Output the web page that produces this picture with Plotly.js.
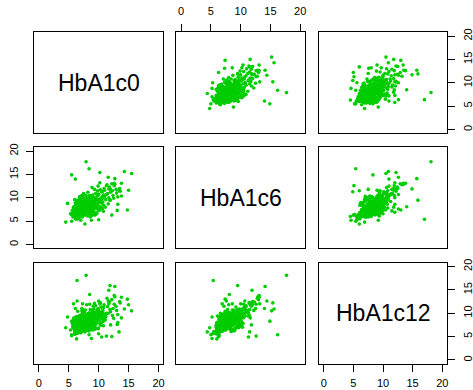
<!DOCTYPE html>
<html>
<head>
<meta charset="utf-8">
<script src="https://cdn.plot.ly/plotly-3.0.1.min.js"></script>
<style>html,body{margin:0;padding:0;background:#fff;}#chart{width:473px;height:390px;}</style>
</head>
<body>
<div id="chart"></div>
<script>
var varNames = ["HbA1c0", "HbA1c6", "HbA1c12"];
var tickVals = [0, 5, 10, 15, 20];
var tickLabels = ["0", "5", "10", "15", "20"];

var hba1c0 = [
7.2,8.1,6.5,7.7,9.0,6.9,7.5,8.4,6.2,7.9, 8.8,7.0,6.7,8.2,9.5,7.4,6.0,8.6,7.1,10.2,
7.8,6.6,8.9,7.3,9.2,6.4,8.0,7.6,10.6,6.8, 8.3,7.0,9.8,7.5,6.3,8.7,7.9,6.1,9.3,7.2,
8.5,6.9,10.0,7.7,6.5,8.1,9.6,7.4,6.7,8.4, 11.0,7.1,5.9,8.9,7.6,6.2,9.1,7.8,6.6,8.6,
7.3,10.4,6.8,8.0,9.4,7.0,6.4,8.3,7.5,9.7, 6.9,8.8,7.2,6.3,10.8,7.9,8.5,6.7,7.4,9.0,
7.7,6.0,8.2,9.9,7.1,6.5,8.7,7.6,6.8,9.3, 7.3,8.0,6.6,10.1,7.8,6.2,8.4,7.0,9.6,6.9,
7.5,8.9,6.4,11.3,7.2,8.1,6.1,9.2,7.7,8.6, 6.7,10.5,7.4,6.0,8.3,7.9,9.4,6.8,7.1,8.8,
7.6,6.3,9.8,7.3,8.0,6.6,10.3,7.0,8.5,7.8, 6.5,9.1,7.2,8.7,6.9,7.5,9.5,6.2,8.2,7.4,
10.7,7.9,6.7,8.4,7.1,9.0,6.8,8.1,7.6,6.4,
11.5,12.0,10.9,12.4,9.8,11.8,13.0,10.3,12.6,9.5, 11.2,13.5,10.6,12.2,9.9,11.7,10.0,12.9,11.4,13.2,
8.5,9.3,11.0,12.7,10.4,13.6,8.9,11.9,10.2,12.3, 7.5,8.2,7.0,6.8,9.7,10.8,11.1,6.1,5.8,10.5,
9.4,8.6,7.2,11.6,6.5,12.5,5.6,5.3,5.7,6.0, 9.1,8.0,7.3,5.8,6.4,8.5,5.5,
7.9,6.4,8.4,5.5,6.1,10.2,14.3,15.5,11.6,12.7, 13.8,15.0,14.8,4.8,4.5,7.7,12.2,10.0,8.8,5.5,
13.8,13.2,13.1,11.9,11.7,13.4,12.6,6.3,11.3,10.5, 12.0,7.0,
6.0,9.6,7.1,8.8,6.5,9.9,7.4,8.2,5.8,10.3, 6.9,9.0,7.6,8.5,6.3,10.8,7.0,9.4,5.9,8.1,
7.3,9.7,6.6,8.7,7.9,10.1,6.2,8.4,7.5,9.3, 6.8,8.9,7.2,10.5,6.1,8.0,7.7,9.1,6.4,8.6,
7.0,9.8,5.7,8.3,7.8,10.0,6.7,8.2,7.4,9.5, 6.0,8.7,7.1,10.2,6.5,8.4,7.6,9.2,6.9,8.0,
7.3,9.9,6.3,8.6,7.9,10.4,6.8,8.9,7.2,9.0, 6.1,8.3,7.5,9.6,6.6,8.1,7.7,10.7,6.4,8.8,
7.0,9.4,6.7,8.5,7.8,9.1,6.2,8.0,7.4,10.1, 6.9,8.7,7.6,9.3,6.5,8.2,7.1,9.7,5.9,8.4,
7.3,9.0,6.8,8.6,7.9,10.6
];
var hba1c6 = [
7.0,7.8,6.8,8.4,8.1,6.2,7.3,9.1,6.6,7.1, 8.6,7.7,6.1,8.0,9.3,6.9,6.4,7.5,8.3,9.0,
7.4,7.2,9.7,6.5,8.2,5.9,8.9,7.6,9.8,7.0, 7.2,6.3,10.4,8.0,6.7,8.4,9.4,6.0,8.7,7.9,
7.7,6.6,10.8,7.0,5.6,8.6,9.1,7.5,7.4,8.1, 10.2,6.8,6.2,7.9,8.7,5.8,9.5,7.8,6.9,9.0,
7.1,9.4,7.6,7.3,10.0,6.4,6.3,8.8,7.2,8.5, 7.3,9.9,6.7,6.5,10.6,8.2,8.3,5.7,8.5,9.2,
6.6,6.8,7.6,9.6,7.4,6.0,8.0,9.2,6.2,8.9, 7.7,7.0,7.8,9.1,8.1,6.4,9.6,7.5,8.4,6.9,
6.6,8.5,7.1,10.7,8.2,7.9,5.5,9.8,7.3,8.7, 6.5,10.1,7.8,6.1,8.4,6.8,9.3,7.9,6.1,8.2,
7.7,6.9,9.0,6.3,9.3,6.7,9.7,7.2,7.4,8.8, 6.3,8.0,7.6,9.4,6.0,8.1,8.8,6.6,8.5,7.0,
10.3,7.5,7.3,7.8,6.5,10.1,6.4,8.2,6.9,6.2,
10.9,11.2,12.0,10.5,11.5,12.3,11.0,11.7,12.6,10.9, 9.6,12.0,11.3,13.0,12.5,10.0,10.7,11.8,12.8,10.2,
10.5,11.8,11.6,12.9,9.2,11.4,12.2,9.5,13.2,11.5, 10.9,11.2,9.9,9.5,6.7,7.1,8.0,8.9,8.0,7.6,
6.3,5.9,10.4,8.7,9.0,9.9,7.3,6.6,5.9,7.7, 7.2,8.0,8.6,6.9,7.6,8.1,6.4,
17.7,5.4,16.2,14.9,14.0,15.4,15.6,15.2,14.4,14.1, 13.1,11.6,7.4,8.8,4.8,4.4,6.3,5.3,5.2,5.0,
10.4,8.6,7.3,9.5,11.9,11.5,13.1,6.0,12.6,11.3, 11.8,5.2,
8.2,6.8,9.3,6.4,8.7,7.5,10.1,6.1,7.4,8.0, 9.8,6.9,7.9,10.3,8.5,8.4,6.0,9.7,6.9,9.0,
5.9,8.6,9.5,7.1,10.5,7.3,7.8,6.6,8.8,7.7, 10.2,6.2,8.1,8.9,7.0,9.9,6.7,8.3,9.1,7.8,
8.4,9.4,6.8,10.0,6.3,7.9,8.0,9.5,7.4,6.5, 9.6,8.9,7.2,9.5,6.5,8.2,9.7,7.0,8.6,6.9,
10.6,8.1,7.6,9.2,7.5,10.0,6.4,8.4,9.0,7.6, 8.3,6.8,9.3,9.8,7.3,8.5,7.2,9.1,8.9,7.4,
9.9,8.8,6.1,9.6,8.6,6.7,9.4,7.7,8.9,8.2, 7.1,10.2,6.4,9.0,8.1,7.3,10.4,7.8,7.9,9.1,
6.6,10.6,8.8,7.0,8.3,7.7
];
var hba1c12 = [
7.4,8.3,6.9,7.9,8.8,6.5,8.0,9.0,7.1,7.6, 8.2,7.2,6.3,9.4,8.7,7.8,6.0,8.1,7.0,9.6,
6.8,7.5,9.2,7.3,10.1,6.2,8.5,7.7,10.4,6.6, 7.9,5.8,9.9,8.6,6.8,7.8,8.8,6.5,9.3,7.1,
8.9,7.0,10.7,6.9,5.9,9.7,8.4,7.6,6.4,8.0, 9.8,7.7,6.7,8.6,7.4,5.6,10.3,8.2,6.1,9.1,
7.9,9.0,7.3,7.2,9.5,6.9,7.4,8.4,8.5,8.9, 6.7,9.8,6.6,6.3,11.2,7.5,9.2,6.0,8.1,8.3,
7.1,6.4,8.7,10.5,7.0,5.7,7.7,9.3,6.8,9.7, 7.8,6.5,7.2,9.4,8.8,5.9,8.6,7.6,9.0,7.3,
6.2,8.5,6.9,10.0,7.8,8.0,6.1,10.9,7.0,8.3, 7.7,9.7,7.5,5.5,9.5,7.4,8.8,6.8,6.4,8.2,
8.4,7.0,9.2,6.7,9.6,6.5,10.2,7.2,7.6,8.7, 6.6,8.1,7.9,9.9,6.3,7.3,9.1,6.2,8.0,7.1,
10.6,8.9,7.6,7.7,6.0,9.3,7.1,8.5,6.9,6.8,
11.4,10.3,11.8,11.0,10.8,12.4,10.6,12.2,11.9,11.6, 9.3,12.5,10.1,12.9,11.0,12.0,12.6,11.5,13.2,9.7,
11.9,12.1,9.0,13.5,11.3,12.2,10.6,10.8,12.0,9.5, 10.2,9.4,8.7,9.5,8.0,7.3,8.6,8.0,7.5,9.6,
6.6,7.2,11.0,10.0,10.4,8.9,7.8,6.4,6.9,8.4, 11.5,11.8,12.0,12.0,12.6,14.0,5.2,
18.1,17.0,5.4,8.3,11.0,12.2,10.9,10.5,12.6,15.7, 13.4,11.8,13.0,9.2,6.9,6.0,5.0,5.6,4.6,5.4,
9.0,8.0,7.6,15.9,14.9,6.0,13.8,4.5,5.1,4.9, 7.5,9.2,
7.3,7.9,6.9,8.6,9.1,6.7,8.2,9.4,8.8,7.4, 7.7,6.4,10.2,7.0,6.6,8.3,8.0,6.9,9.0,6.3,
7.5,10.0,8.4,9.8,9.3,8.5,7.8,6.2,10.6,7.1, 7.6,7.7,9.7,8.0,8.3,7.3,9.5,6.5,7.9,10.8,
6.1,8.7,7.2,8.9,8.1,9.9,6.8,9.0,10.4,7.6, 8.6,6.6,9.2,7.8,7.4,10.1,7.2,8.9,8.0,7.0,
9.6,6.8,9.3,8.4,6.4,9.1,8.7,7.5,10.5,9.4, 7.7,8.2,7.1,10.3,6.5,9.5,8.8,8.6,8.5,6.9,
8.3,9.6,7.3,7.4,10.7,8.0,8.9,6.7,9.8,10.0, 7.0,8.1,9.1,7.7,8.6,9.9,7.8,8.4,7.6,6.8,
10.0,9.2,6.2,8.5,7.9,9.3
];

var vars = [hba1c0, hba1c6, hba1c12];

var W = 473, H = 390;
var colPx = [[34, 163.3], [176.3, 305], [319, 447]];
var rowPx = [[32.3, 133.3], [147.3, 248.3], [262.7, 363.7]];
var axRange = [-0.8, 20.8];
var tickFont = {family: "Liberation Sans, Arial, sans-serif", size: 11, color: "#000"};

// which panels get tick labels
var xTickSide = {"3,1": "bottom", "3,3": "bottom", "1,2": "top"};
var yTickSide = {"2,1": "left", "1,3": "right", "3,3": "right"};

var data = [];
var layout = {
  width: W, height: H,
  margin: {l: 0, r: 0, t: 0, b: 0},
  paper_bgcolor: "#fff", plot_bgcolor: "#fff",
  showlegend: false,
  annotations: []
};

for (var r = 1; r <= 3; r++) {
  for (var c = 1; c <= 3; c++) {
    var k = (r - 1) * 3 + c;
    var xn = k === 1 ? "x" : "x" + k;
    var yn = k === 1 ? "y" : "y" + k;
    var xa = {
      domain: [colPx[c - 1][0] / W, colPx[c - 1][1] / W],
      range: axRange, anchor: yn,
      showline: true, mirror: true, linecolor: "#000", linewidth: 1,
      showgrid: false, zeroline: false, ticks: "", showticklabels: false
    };
    var ya = {
      domain: [1 - rowPx[r - 1][1] / H, 1 - rowPx[r - 1][0] / H],
      range: axRange, anchor: xn,
      showline: true, mirror: true, linecolor: "#000", linewidth: 1,
      showgrid: false, zeroline: false, ticks: "", showticklabels: false
    };
    var key = r + "," + c;
    if (xTickSide[key]) {
      Object.assign(xa, {side: xTickSide[key], ticks: "outside", ticklen: 7, tickwidth: 1, tickcolor: "#000",
        tickmode: "array", tickvals: tickVals, ticktext: tickLabels, showticklabels: true, tickfont: tickFont,
        ticklabelstandoff: xTickSide[key] === "top" ? 5 : 2});
    }
    if (yTickSide[key]) {
      Object.assign(ya, {side: yTickSide[key], ticks: "outside", ticklen: 7, tickwidth: 1, tickcolor: "#000",
        tickmode: "array", tickvals: tickVals, ticktext: tickLabels, showticklabels: true, tickfont: tickFont,
        tickangle: -90, ticklabelstandoff: 4});
    }
    layout[k === 1 ? "xaxis" : "xaxis" + k] = xa;
    layout[k === 1 ? "yaxis" : "yaxis" + k] = ya;

    if (r === c) {
      layout.annotations.push({
        xref: xn, yref: yn, x: 10, y: 10, text: varNames[r - 1], showarrow: false,
        font: {family: "Liberation Sans, Arial, sans-serif", size: 23, color: "#000"}
      });
    } else {
      data.push({
        type: "scatter", mode: "markers",
        x: vars[c - 1], y: vars[r - 1],
        xaxis: xn, yaxis: yn,
        marker: {color: "#00CD00", size: 3.6, line: {width: 0}},
        hoverinfo: "skip", cliponaxis: true
      });
    }
  }
}

Plotly.newPlot("chart", data, layout, {staticPlot: true, displayModeBar: false});
</script>
</body>
</html>
